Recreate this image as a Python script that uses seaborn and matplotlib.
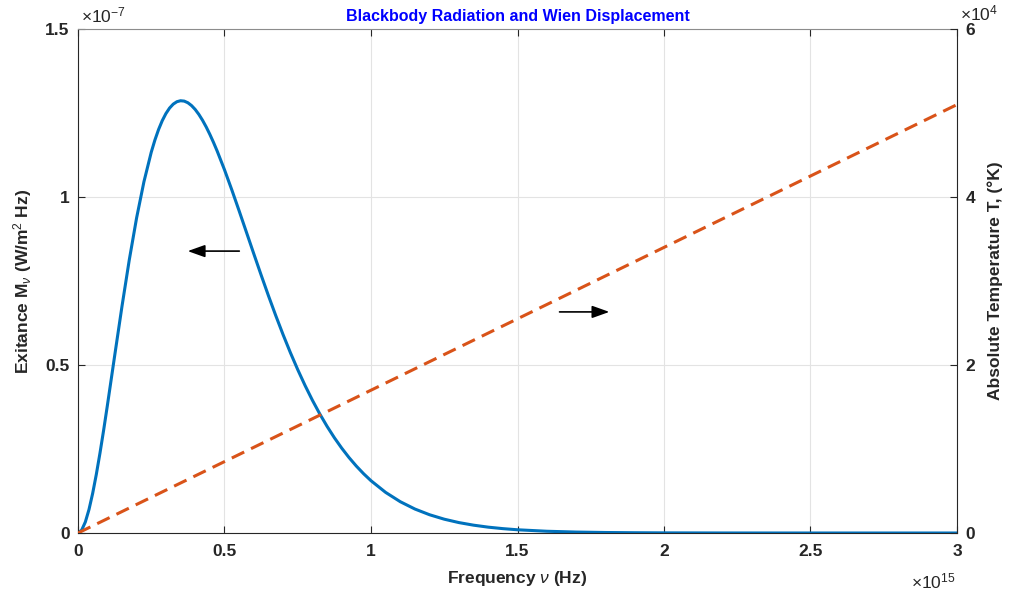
import matplotlib
matplotlib.use('Agg')
import matplotlib.pyplot as plt
import seaborn as sns
import numpy as np
from matplotlib.ticker import FuncFormatter

# Spectral exitance (nu in 1e15 Hz, M in 1e-7 W/m^2 Hz)
nu_1e15 = [0.0, 0.0125, 0.025, 0.0375, 0.05, 0.0625, 0.075, 0.0875, 0.1, 0.125,
           0.15, 0.175, 0.2, 0.225, 0.25, 0.2625, 0.275, 0.2875, 0.3, 0.3125,
           0.325, 0.3375, 0.35, 0.3625, 0.375, 0.3875, 0.4, 0.4125, 0.425, 0.4375,
           0.45, 0.4625, 0.475, 0.5, 0.525, 0.55, 0.575, 0.6, 0.625, 0.65,
           0.675, 0.7, 0.725, 0.75, 0.775, 0.8, 0.825, 0.85, 0.875, 0.9,
           0.925, 0.95, 0.975, 1.0, 1.05, 1.1, 1.15, 1.2, 1.25, 1.3,
           1.35, 1.4, 1.45, 1.5, 1.6, 1.7, 1.8, 1.9, 2.0, 2.2,
           2.4, 2.6, 2.8, 3.0]
exitance_1e7 = [0.0, 0.0086, 0.0327, 0.0698, 0.1178, 0.1744, 0.2378, 0.3061, 0.3781, 0.5267,
                0.6740, 0.8128, 0.9378, 1.0453, 1.1333, 1.1696, 1.2009, 1.2271, 1.2483, 1.2647,
                1.2764, 1.2836, 1.2865, 1.2854, 1.2805, 1.2721, 1.2605, 1.2458, 1.2284, 1.2085,
                1.1864, 1.1624, 1.1367, 1.0810, 1.0211, 0.9586, 0.8948, 0.8309, 0.7678, 0.7062,
                0.6469, 0.5902, 0.5365, 0.4861, 0.4389, 0.3951, 0.3547, 0.3175, 0.2835, 0.2526,
                0.2245, 0.1991, 0.1762, 0.1556, 0.1208, 0.0931, 0.0713, 0.0543, 0.0411, 0.0310,
                0.0233, 0.0174, 0.0130, 0.0096, 0.0052, 0.0028, 0.0015, 0.0008, 0.0004, 0.0001,
                0.00003, 0.0, 0.0, 0.0]

# Wien displacement temperature line (nu in 1e15 Hz, T in 1e4 K)
wien_nu_1e15 = [0.0, 3.0]
wien_temp_1e4 = [0.0, 5.10]

nu = np.array(nu_1e15) * 1e15
exitance = np.array(exitance_1e7) * 1e-7
wien_nu = np.array(wien_nu_1e15) * 1e15
wien_temp = np.array(wien_temp_1e4) * 1e4

sns.set_style('ticks')
plt.rcParams['font.family'] = ['Liberation Sans', 'DejaVu Sans']
plt.rcParams['mathtext.fontset'] = 'custom'
plt.rcParams['mathtext.rm'] = 'Liberation Sans'
plt.rcParams['mathtext.it'] = 'Liberation Sans:italic'
plt.rcParams['mathtext.bf'] = 'Liberation Sans:bold'

blue = '#0072BD'
orange = '#D95319'
dark = '#262626'
fs = 12.5

fig = plt.figure(figsize=(10.09, 6.01), dpi=100)
ax = fig.add_axes([78 / 1009, 68 / 601, 879 / 1009, 504 / 601])
ax2 = ax.twinx()

sns.lineplot(x=nu, y=exitance, ax=ax, color=blue, linewidth=2.2, sort=False)
sns.lineplot(x=wien_nu, y=wien_temp, ax=ax2, color=orange, linewidth=2.2,
             linestyle=(0, (4.5, 2.5)), sort=False)

ax.set_xlim(0, 3e15)
ax.set_ylim(0, 1.5e-7)
ax2.set_ylim(0, 6e4)
ax.set_xticks(np.arange(0, 3.01, 0.5) * 1e15)
ax.set_yticks(np.arange(0, 1.51, 0.5) * 1e-7)
ax2.set_yticks(np.arange(0, 6.1, 2) * 1e4)
ax.xaxis.set_major_formatter(FuncFormatter(lambda v, _: f'{v / 1e15:g}'))
ax.yaxis.set_major_formatter(FuncFormatter(lambda v, _: f'{v / 1e-7:g}'))
ax2.yaxis.set_major_formatter(FuncFormatter(lambda v, _: f'{v / 1e4:g}'))

ax.grid(True, color='#e3e3e3', linewidth=0.8)
ax.tick_params(axis='x', direction='in', top=True, labelsize=fs, length=5, width=0.8, pad=8)
ax.tick_params(axis='y', direction='in', labelsize=fs, length=5, width=0.8, pad=6)
ax2.tick_params(axis='y', direction='in', labelsize=fs, length=5, width=0.8, pad=6)
for lab in ax.get_xticklabels() + ax.get_yticklabels() + ax2.get_yticklabels():
    lab.set_fontweight('bold')
    lab.set_color(dark)

for sp in ['top', 'bottom']:
    ax2.spines[sp].set_visible(False)
ax.spines['bottom'].set_color(dark)
ax.spines['left'].set_color(dark)
ax.spines['top'].set_color('#8c8c8c')
ax2.spines['right'].set_color(dark)
ax2.spines['left'].set_visible(False)
ax.spines['right'].set_visible(False)
for sp in ax.spines.values():
    sp.set_linewidth(0.8)
ax2.spines['right'].set_linewidth(0.8)

ax.set_xlabel(r'Frequency $\nu$ (Hz)', fontsize=fs, fontweight='bold', color=dark, labelpad=7)
ax.set_ylabel(r'Exitance M$_\nu$ (W/m$^2$ Hz)', fontsize=fs, fontweight='bold', labelpad=8)
ax2.set_ylabel('Absolute Temperature T, (\u00b0K)', fontsize=fs, fontweight='bold', labelpad=9)
ax.set_title('Blackbody Radiation and Wien Displacement', fontsize=11.5,
             fontweight='bold', color='blue', pad=6)

# offset labels
ax.text(0.003, 1.014, r'$\times$10$^{-7}$', transform=ax.transAxes, fontsize=fs,
        ha='left', va='baseline', color=dark)
ax.text(1.003, 1.018, r'$\times$10$^{4}$', transform=ax.transAxes, fontsize=fs,
        ha='left', va='baseline', color=dark)
ax.text(0.998, -0.109, r'$\times$10$^{15}$', transform=ax.transAxes, fontsize=fs,
        ha='right', va='baseline', color=dark)

# arrows pointing to the matching axes
arrow_style = '-|>,head_length=0.7,head_width=0.25'
ax.annotate('', xy=(0.365e15, 0.839e-7), xytext=(0.56e15, 0.839e-7),
            arrowprops=dict(arrowstyle=arrow_style, color='black', lw=1.2, mutation_scale=15))
ax.annotate('', xy=(1.823e15, 0.658e-7), xytext=(1.634e15, 0.658e-7),
            arrowprops=dict(arrowstyle=arrow_style, color='black', lw=1.2, mutation_scale=15))

fig.savefig('out.png', dpi=100)
